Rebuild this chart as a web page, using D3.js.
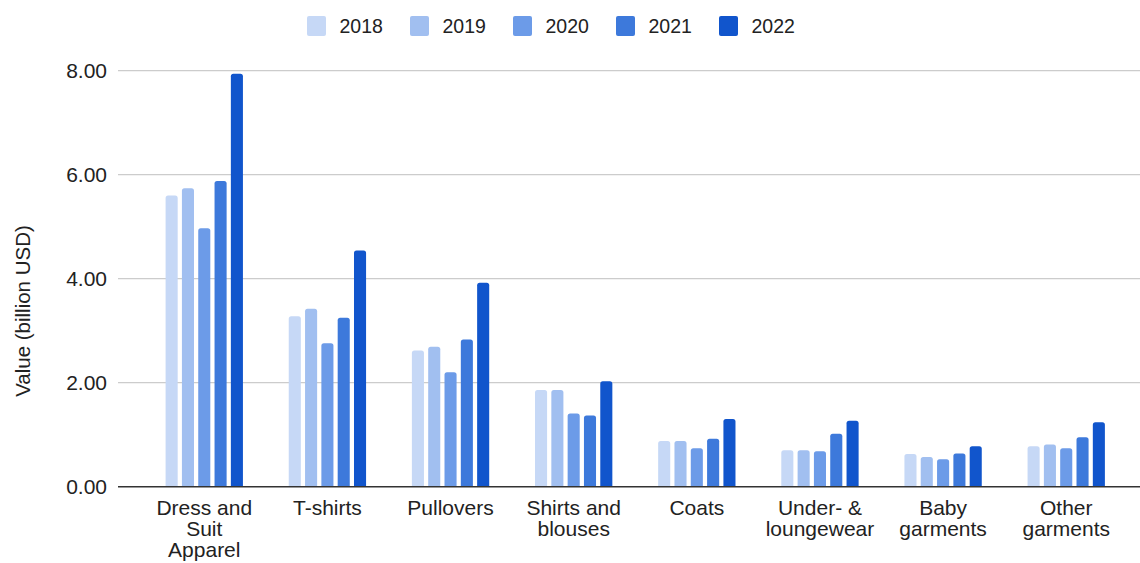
<!DOCTYPE html>
<html>
<head>
<meta charset="utf-8">
<script src="https://cdn.jsdelivr.net/npm/d3@7"></script>
<style>
  html, body { margin: 0; padding: 0; background: #fff; }
  svg { display: block; font-family: "Liberation Sans", Arial, sans-serif; }
</style>
</head>
<body>
<svg id="chart" width="1140" height="563"></svg>
<script>
// Garment export values by category and year (billion USD)
const categories = [
  "Dress and Suit Apparel", "T-shirts", "Pullovers", "Shirts and blouses",
  "Coats", "Under- & loungewear", "Baby garments", "Other garments"
];
const categoryLines = [
  ["Dress and", "Suit", "Apparel"], ["T-shirts"], ["Pullovers"], ["Shirts and", "blouses"],
  ["Coats"], ["Under- &", "loungewear"], ["Baby", "garments"], ["Other", "garments"]
];
const years = ["2018", "2019", "2020", "2021", "2022"];
const values2018 = [5.60, 3.28, 2.62, 1.86, 0.88, 0.70, 0.63, 0.78];
const values2019 = [5.74, 3.42, 2.69, 1.86, 0.88, 0.70, 0.57, 0.81];
const values2020 = [4.97, 2.76, 2.20, 1.41, 0.74, 0.68, 0.53, 0.74];
const values2021 = [5.88, 3.25, 2.83, 1.37, 0.92, 1.02, 0.64, 0.95];
const values2022 = [7.94, 4.54, 3.92, 2.03, 1.30, 1.27, 0.78, 1.24];
const yTicks = [0, 2, 4, 6, 8];
const yTitle = "Value (billion USD)";
const colors = ["#c6d8f6", "#a1bff0", "#6c9be8", "#3d79db", "#1155cc"];

const series = [values2018, values2019, values2020, values2021, values2022];

const svg = d3.select("#chart");
const gridLeft = 118, gridRight = 1140;

const y = d3.scaleLinear().domain([0, 8]).range([486.7, 70.7]);
const x0 = d3.scaleBand().domain(categories).range([142.7, 1127.8])
  .paddingInner(0.372).paddingOuter(0.186);
const x1 = d3.scaleBand().domain(years).range([0, x0.bandwidth()]).paddingInner(0.26);
const color = d3.scaleOrdinal().domain(years).range(colors);

// Horizontal gridlines
svg.append("g").selectAll("line")
  .data(yTicks.filter(t => t !== 0))
  .join("line")
  .attr("x1", gridLeft).attr("x2", gridRight)
  .attr("y1", d => y(d)).attr("y2", d => y(d))
  .attr("stroke", "#cccccc").attr("stroke-width", 1.2);

// Y tick labels
svg.append("g").selectAll("text")
  .data(yTicks)
  .join("text")
  .attr("x", 107).attr("y", d => y(d))
  .attr("dy", "0.35em")
  .attr("text-anchor", "end")
  .attr("font-size", 21).attr("fill", "#222")
  .text(d => d3.format(".2f")(d));

// Y axis title
svg.append("text")
  .attr("transform", "translate(22.5,311) rotate(-90)")
  .attr("text-anchor", "middle")
  .attr("dy", "0.35em")
  .attr("font-size", 20.5).attr("fill", "#222")
  .text(yTitle);

// Bars with slightly rounded tops
function barPath(x, w, yTop, yBase, r) {
  r = Math.min(r, (yBase - yTop) / 2, w / 2);
  return `M${x},${yBase}V${yTop + r}Q${x},${yTop} ${x + r},${yTop}` +
         `H${x + w - r}Q${x + w},${yTop} ${x + w},${yTop + r}V${yBase}Z`;
}

const groups = svg.append("g").selectAll("g")
  .data(categories)
  .join("g")
  .attr("transform", d => `translate(${x0(d)},0)`);

groups.selectAll("path")
  .data((d, i) => years.map((yr, j) => ({ year: yr, value: series[j][i] })))
  .join("path")
  .attr("d", d => barPath(x1(d.year), x1.bandwidth(), y(d.value), y(0), 2.5))
  .attr("fill", d => color(d.year));

// Baseline
svg.append("line")
  .attr("x1", gridLeft).attr("x2", gridRight)
  .attr("y1", y(0)).attr("y2", y(0))
  .attr("stroke", "#333").attr("stroke-width", 1.6);

// Category labels
const labels = svg.append("g").selectAll("text")
  .data(categories)
  .join("text")
  .attr("text-anchor", "middle")
  .attr("font-size", 21).attr("fill", "#222")
  .attr("transform", d => `translate(${x0(d) + x0.bandwidth() / 2},515)`);
labels.selectAll("tspan")
  .data((d, i) => categoryLines[i])
  .join("tspan")
  .attr("x", 0)
  .attr("y", (d, i) => i * 21)
  .text(d => d);

// Legend
const legend = svg.append("g").selectAll("g")
  .data(years)
  .join("g")
  .attr("transform", (d, i) => `translate(${307 + i * 103},16)`);
legend.append("rect")
  .attr("width", 19).attr("height", 20).attr("rx", 2)
  .attr("fill", d => color(d));
legend.append("text")
  .attr("x", 32.5).attr("y", 10).attr("dy", "0.36em")
  .attr("font-size", 19.5).attr("fill", "#222")
  .text(d => d);
</script>
</body>
</html>
